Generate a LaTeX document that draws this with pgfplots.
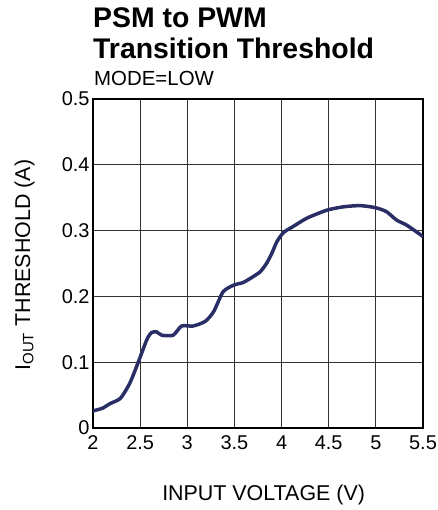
\documentclass[border=0pt]{standalone}
\usepackage{pgfplots}
\pgfplotsset{compat=1.18}
\usepackage{fontspec}
\setmainfont{Liberation Sans}
\definecolor{curve}{RGB}{42,46,102}

\begin{document}
\begin{tikzpicture}
\useasboundingbox (0,0) rectangle (438bp,510bp);
\node[anchor=base west, font=\fontsize{28.5}{28.5}\selectfont\bfseries, inner sep=0pt] at (93bp,482.5bp) {PSM to PWM};
\node[anchor=base west, font=\fontsize{28.5}{28.5}\selectfont\bfseries, inner sep=0pt] at (93bp,451bp) {Transition Threshold};
\node[anchor=base west, font=\fontsize{20.5}{20.5}\selectfont, inner sep=0pt] at (94bp,424bp) {MODE=LOW};
\begin{axis}[
	at={(93bp,82bp)}, anchor=south west,
	scale only axis,
	width=330bp, height=329bp,
	xmin=2, xmax=5.5, ymin=0, ymax=0.5,
	xtick={2,2.5,...,5.5},
	ytick={0,0.1,...,0.5},
	/pgf/number format/assume math mode=true,
	yticklabel style={/pgf/number format/fixed, /pgf/number format/precision=1},
	xticklabel style={yshift=-4bp},
	ticklabel style={font=\fontsize{20}{20}\selectfont},
	major tick length=0pt,
	grid=major,
	major grid style={draw=black!80, line width=0.8bp},
	axis line style={line width=1.8bp},
	xlabel={INPUT VOLTAGE (V)},
	ylabel={I\textsubscript{OUT} THRESHOLD (A)},
	label style={font=\fontsize{21.5}{21.5}\selectfont},
	xlabel style={at={(axis description cs:0.517,-0.2204)}, anchor=base},
	ylabel style={at={(axis description cs:-0.1909,0.495)}, anchor=base},
]
\addplot[curve, line width=3.5bp, smooth, tension=0.4] coordinates {
(2.00,0.026) (2.10,0.030) (2.18,0.037) (2.29,0.045) (2.39,0.068)
(2.48,0.100) (2.57,0.134) (2.62,0.145) (2.675,0.146) (2.73,0.141)
(2.85,0.141) (2.94,0.155) (3.06,0.155) (3.19,0.162) (3.28,0.177)
(3.38,0.207) (3.49,0.217) (3.59,0.221) (3.665,0.227) (3.77,0.237)
(3.84,0.250) (3.895,0.265) (3.95,0.283) (4.02,0.297) (4.12,0.306)
(4.27,0.319) (4.48,0.331) (4.65,0.336) (4.83,0.338) (4.99,0.335)
(5.11,0.329) (5.22,0.316) (5.33,0.308) (5.50,0.291)
};
\end{axis}
\end{tikzpicture}
\end{document}
